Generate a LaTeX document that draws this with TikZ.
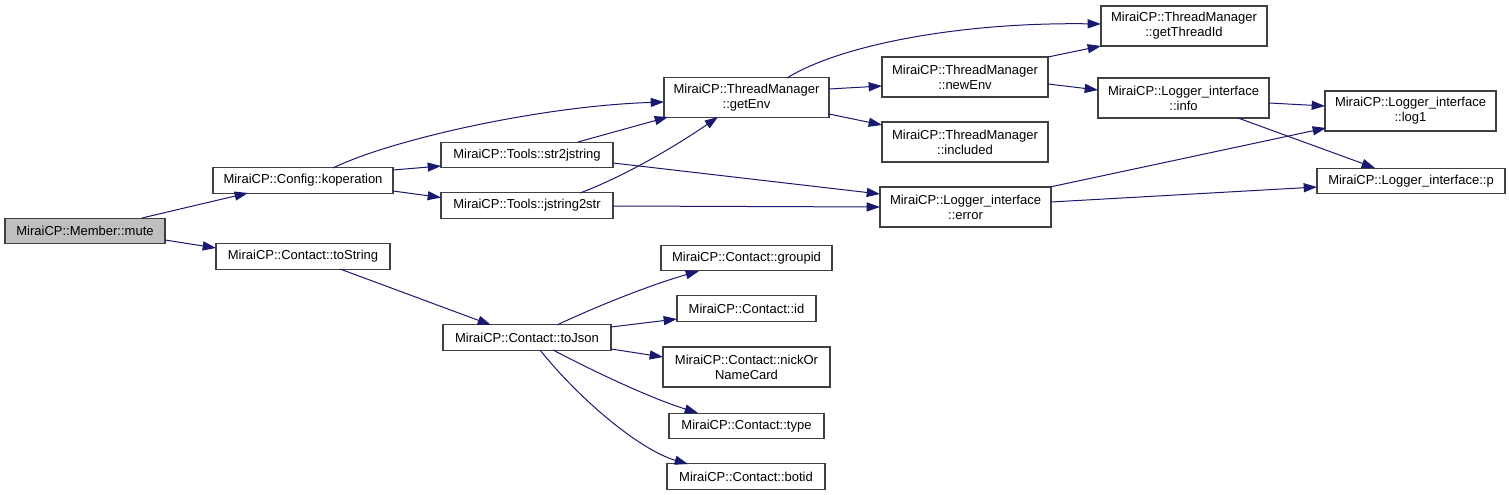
\documentclass[tikz,border=0pt]{standalone}
\usepackage{fontspec}
\setmainfont{Liberation Sans}
\usetikzlibrary{arrows.meta,calc}
\definecolor{edgec}{HTML}{191970}
\definecolor{boxc}{HTML}{404040}
\definecolor{curfill}{HTML}{BFBFBF}
\begin{document}
\begin{tikzpicture}[x=0.75pt,y=-0.75pt,
  box/.style={draw=boxc,line width=0.9pt,fill=white,inner sep=0pt,align=center,
    font=\fontsize{9.75}{11.25}\selectfont,text=black},
  one/.style={minimum height=19pt},
  two/.style={minimum height=30pt},
  edge/.style={draw=edgec,line width=0.75pt,-{Triangle[length=10pt,width=6.8pt]}}]
\useasboundingbox (0,0) rectangle (1509,495);
% nodes
\node[box,one,fill=curfill,minimum width=120pt] (mute) at (85,231) {MiraiCP::Member::mute};
\node[box,one,minimum width=135pt] (kop) at (303,180.5) {MiraiCP::Config::koperation};
\node[box,one,minimum width=130.5pt] (tostr) at (303,256.5) {MiraiCP::Contact::toString};
\node[box,two,minimum width=123.75pt] (getenv) at (746.5,97.5) {MiraiCP::ThreadManager\\::getEnv};
\node[box,one,minimum width=129pt] (s2j) at (527,155) {MiraiCP::Tools::str2jstring};
\node[box,one,minimum width=129pt] (j2s) at (527,205.5) {MiraiCP::Tools::jstring2str};
\node[box,two,minimum width=124.5pt] (gtid) at (1184,26) {MiraiCP::ThreadManager\\::getThreadId};
\node[box,two,minimum width=124.5pt] (newenv) at (965,77) {MiraiCP::ThreadManager\\::newEnv};
\node[box,two,minimum width=128.25pt] (info) at (1183.5,98) {MiraiCP::Logger\_interface\\::info};
\node[box,two,minimum width=124.5pt] (incl) at (965,142) {MiraiCP::ThreadManager\\::included};
\node[box,two,minimum width=128.25pt] (err) at (965.5,207) {MiraiCP::Logger\_interface\\::error};
\node[box,two,minimum width=128.25pt] (log1) at (1410.5,111) {MiraiCP::Logger\_interface\\::log1};
\node[box,one,minimum width=141pt] (p) at (1411,181) {MiraiCP::Logger\_interface::p};
\node[box,one,minimum width=126pt] (tojson) at (527,337.5) {MiraiCP::Contact::toJson};
\node[box,one,minimum width=128.25pt] (gid) at (746.5,258) {MiraiCP::Contact::groupid};
\node[box,one,minimum width=104.25pt] (id) at (746.5,308.5) {MiraiCP::Contact::id};
\node[box,two,minimum width=125.25pt] (nick) at (746.5,367) {MiraiCP::Contact::nickOr\\NameCard};
\node[box,one,minimum width=116.25pt] (type) at (746.5,426) {MiraiCP::Contact::type};
\node[box,one,minimum width=118.5pt] (botid) at (746,476.5) {MiraiCP::Contact::botid};
% edges
\draw[edge] ($(mute)+(57,-13)$) -- ($(kop)+(-55,12.5)$);
\draw[edge] ($(mute)+(80,9)$) -- ($(tostr)+(-87,-8.5)$);
\draw[edge] ($(kop)+(30,-12.5)$) .. controls (390,140) and (540,106) .. ($(getenv)+(-82.5,4.5)$);
\draw[edge] ($(kop)+(90,-10.5)$) -- ($(s2j)+(-86,11)$);
\draw[edge] ($(kop)+(90,10.5)$) -- ($(j2s)+(-86,-8)$);
\draw[edge] ($(s2j)+(51,-13)$) -- ($(getenv)+(-78.5,19.5)$);
\draw[edge] ($(s2j)+(86,8)$) -- ($(err)+(-85.5,-13)$);
\draw[edge] ($(j2s)+(53,-12.5)$) .. controls (620,178) and (670,150) .. ($(getenv)+(-28.5,19.5)$);
\draw[edge] ($(j2s)+(86,0.5)$) -- ($(err)+(-85.5,0)$);
\draw[edge] ($(getenv)+(40.5,-19.5)$) .. controls (840,45) and (960,22) .. ($(gtid)+(-83,-2)$);
\draw[edge] ($(getenv)+(82.5,-8.5)$) -- ($(newenv)+(-83,9)$);
\draw[edge] ($(getenv)+(82.5,16.5)$) -- ($(incl)+(-83,-17)$);
\draw[edge] ($(newenv)+(83,-20)$) -- ($(gtid)+(-83,20)$);
\draw[edge] ($(newenv)+(83,7)$) -- ($(info)+(-85.5,-8)$);
\draw[edge] ($(info)+(85.5,5)$) -- ($(log1)+(-85.5,-5)$);
\draw[edge] ($(info)+(54.5,20)$) -- ($(p)+(-36,-13)$);
\draw[edge] ($(err)+(84.5,-20)$) -- ($(log1)+(-84.5,17)$);
\draw[edge] ($(err)+(85.5,-5)$) -- ($(p)+(-94,6)$);
\draw[edge] ($(tostr)+(37,12.5)$) -- ($(tojson)+(-36,-12.5)$);
\draw[edge] ($(tojson)+(30,-12.5)$) .. controls (595,307) and (650,285) .. ($(gid)+(-47.5,13)$);
\draw[edge] ($(tojson)+(84,-10.5)$) -- ($(id)+(-69.5,10.5)$);
\draw[edge] ($(tojson)+(84,11.5)$) -- ($(nick)+(-83.5,-10)$);
\draw[edge] ($(tojson)+(26,12.5)$) .. controls (595,372) and (650,398) .. ($(type)+(-48.5,-13)$);
\draw[edge] ($(tojson)+(13,12.5)$) .. controls (580,400) and (640,450) .. ($(botid)+(-58,-12.5)$);
\end{tikzpicture}
\end{document}
